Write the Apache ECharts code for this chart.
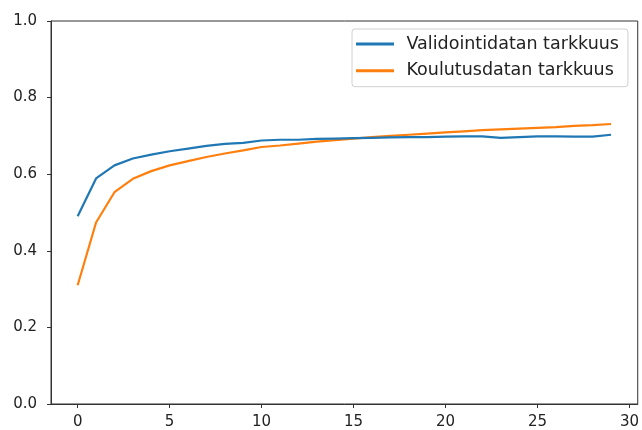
<!DOCTYPE html>
<html>
<head>
<meta charset="utf-8">
<script src="https://cdn.jsdelivr.net/npm/echarts@6/dist/echarts.min.js"></script>
<style>
html,body{margin:0;padding:0;background:#fff;}
#chart{width:642px;height:430px;}
</style>
</head>
<body>
<div id="chart"></div>
<script>
const epochs = [0,1,2,3,4,5,6,7,8,9,10,11,12,13,14,15,16,17,18,19,20,21,22,23,24,25,26,27,28,29];
const valAcc = [0.490,0.589,0.623,0.641,0.651,0.660,0.667,0.674,0.679,0.682,0.688,0.690,0.690,0.692,0.693,0.694,0.695,0.696,0.697,0.697,0.698,0.699,0.699,0.695,0.697,0.699,0.699,0.698,0.698,0.703];
const trainAcc = [0.310,0.474,0.553,0.588,0.608,0.623,0.634,0.645,0.654,0.662,0.671,0.675,0.680,0.685,0.689,0.693,0.697,0.700,0.703,0.706,0.709,0.712,0.715,0.717,0.719,0.721,0.723,0.726,0.728,0.731];
const xTicks = [0,5,10,15,20,25,30];
const seriesNames = ['Validointidatan tarkkuus','Koulutusdatan tarkkuus'];

const chart = echarts.init(document.getElementById('chart'), null, {renderer:'canvas'});
const font = 'DejaVu Sans';
chart.setOption({
  animation:false,
  backgroundColor:'#fff',
  grid:{left:51,right:4,top:21,bottom:26,show:true,borderColor:'#333',borderWidth:1,backgroundColor:'transparent'},
  legend:{
    orient:'vertical',
    left:352, top:29,
    padding:[5,9,6,4],
    itemGap:6.7,
    itemWidth:38,
    itemHeight:3,
    icon:'rect',
    backgroundColor:'#fff',
    borderColor:'#d0d0d0',
    borderWidth:1,
    borderRadius:3,
    textStyle:{fontFamily:font,fontSize:17.5,color:'#222',lineHeight:20,padding:[0,0,0,7.5]},
    data:seriesNames
  },
  xAxis:{
    type:'value',min:-1.45,max:30.45,
    axisLine:{show:true,onZero:false,lineStyle:{color:'#333',width:1}},
    axisTick:{show:true,length:4,lineStyle:{color:'#333'},customValues:xTicks},
    axisLabel:{fontFamily:font,fontSize:15,color:'#222',margin:11,customValues:xTicks},
    splitLine:{show:false}
  },
  yAxis:{
    type:'value',min:0,max:1,interval:0.2,
    axisLine:{show:true,onZero:false,lineStyle:{color:'#333',width:1}},
    axisTick:{show:true,length:4,lineStyle:{color:'#333'}},
    axisLabel:{fontFamily:font,fontSize:15,color:'#222',margin:14,formatter:v=>v.toFixed(1)},
    splitLine:{show:false}
  },
  series:[
    {name:seriesNames[0],type:'line',data:epochs.map((e,i)=>[e,valAcc[i]]),showSymbol:false,color:'#1f77b4',lineStyle:{width:2.2,color:'#1f77b4'},z:3},
    {name:seriesNames[1],type:'line',data:epochs.map((e,i)=>[e,trainAcc[i]]),showSymbol:false,color:'#ff7f0e',lineStyle:{width:2.2,color:'#ff7f0e'},z:2}
  ]
});
</script>
</body>
</html>
